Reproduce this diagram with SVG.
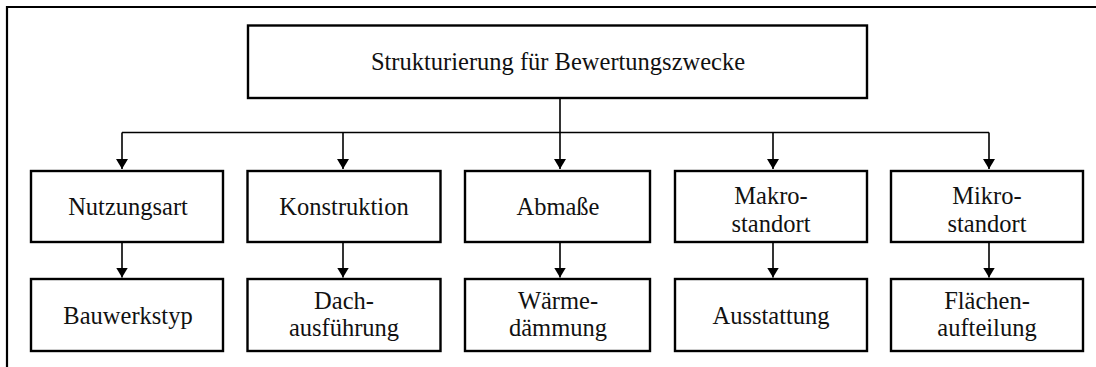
<svg xmlns="http://www.w3.org/2000/svg" width="1096" height="367" viewBox="0 0 1096 367">
  <style>
    .box { fill: #ffffff; stroke: #000000; stroke-width: 2.4; }
    .frame { fill: none; stroke: #000000; stroke-width: 2.2; }
    .link { fill: none; stroke: #000000; stroke-width: 1.6; }
    .lbl { font-family: "Liberation Serif", "Times New Roman", serif; font-size: 24.5px; fill: #111111; text-anchor: middle; }
  </style>
  <defs>
    <marker id="arrow" markerUnits="userSpaceOnUse" markerWidth="12" markerHeight="13" refX="10" refY="6" orient="auto">
      <path d="M0,0 L10,6 L0,12 Z" fill="#000000"/>
    </marker>
  </defs>
  <rect width="1096" height="367" fill="#ffffff"/>

  <!-- page frame (top and left edges) -->
  <path class="frame" d="M7,367 L7,7 L1096,7"/>

  <!-- connectors -->
  <g id="connectors">
    <path class="link" d="M560,98 L560,169" marker-end="url(#arrow)"/>
    <path class="link" d="M122,132.5 L989,132.5"/>
    <path class="link" d="M122,132.5 L122,169" marker-end="url(#arrow)"/>
    <path class="link" d="M343,132.5 L343,169" marker-end="url(#arrow)"/>
    <path class="link" d="M773,132.5 L773,169" marker-end="url(#arrow)"/>
    <path class="link" d="M989,132.5 L989,169" marker-end="url(#arrow)"/>
    <path class="link" d="M122,242 L122,277.5" marker-end="url(#arrow)"/>
    <path class="link" d="M343,242 L343,277.5" marker-end="url(#arrow)"/>
    <path class="link" d="M560,242 L560,277.5" marker-end="url(#arrow)"/>
    <path class="link" d="M773,242 L773,277.5" marker-end="url(#arrow)"/>
    <path class="link" d="M989,242 L989,277.5" marker-end="url(#arrow)"/>
  </g>

  <g id="root">
    <rect class="box" x="248" y="25.5" width="619" height="72.5"/>
    <text class="lbl" x="558" y="69.5">Strukturierung für Bewertungszwecke</text>
  </g>

  <g id="nutzungsart">
    <rect class="box" x="31" y="171" width="192" height="71"/>
    <text class="lbl" x="128" y="215">Nutzungsart</text>
  </g>
  <g id="konstruktion">
    <rect class="box" x="247.5" y="171" width="193" height="71"/>
    <text class="lbl" x="344" y="215">Konstruktion</text>
  </g>
  <g id="abmasse">
    <rect class="box" x="465" y="171" width="185" height="71"/>
    <text class="lbl" x="558" y="215">Abmaße</text>
  </g>
  <g id="makrostandort">
    <rect class="box" x="675" y="171" width="192" height="71"/>
    <text class="lbl" x="771" y="204">Makro-</text>
    <text class="lbl" x="771" y="231.5">standort</text>
  </g>
  <g id="mikrostandort">
    <rect class="box" x="891" y="171" width="192" height="71"/>
    <text class="lbl" x="987" y="204">Mikro-</text>
    <text class="lbl" x="987" y="231.5">standort</text>
  </g>

  <g id="bauwerkstyp">
    <rect class="box" x="31" y="279" width="192" height="72"/>
    <text class="lbl" x="128" y="323.5">Bauwerkstyp</text>
  </g>
  <g id="dachausfuehrung">
    <rect class="box" x="247.5" y="279" width="193" height="72"/>
    <text class="lbl" x="344" y="308.5">Dach-</text>
    <text class="lbl" x="344" y="336">ausführung</text>
  </g>
  <g id="waermedaemmung">
    <rect class="box" x="465" y="279" width="185" height="72"/>
    <text class="lbl" x="558" y="308.5">Wärme-</text>
    <text class="lbl" x="558" y="336">dämmung</text>
  </g>
  <g id="ausstattung">
    <rect class="box" x="675" y="279" width="192" height="72"/>
    <text class="lbl" x="771" y="323.5">Ausstattung</text>
  </g>
  <g id="flaechenaufteilung">
    <rect class="box" x="891" y="279" width="192" height="72"/>
    <text class="lbl" x="987" y="308.5">Flächen-</text>
    <text class="lbl" x="987" y="336">aufteilung</text>
  </g>
</svg>
